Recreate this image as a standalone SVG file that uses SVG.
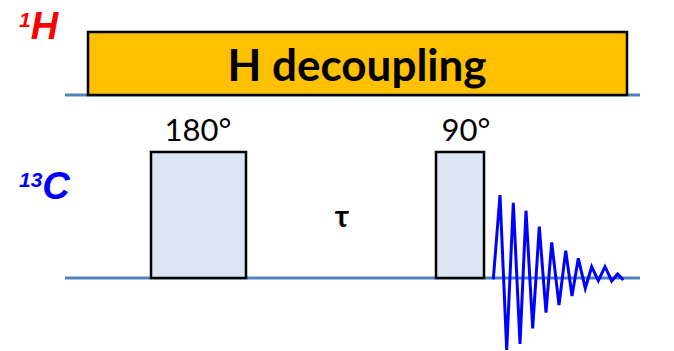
<svg xmlns="http://www.w3.org/2000/svg" width="674" height="351" viewBox="0 0 674 351">
<style>
.axis{stroke:#4f81bd;stroke-width:3;fill:none}
.pulse{fill:#dce6f2;stroke:#000;stroke-width:2.5}
.lbl{font-family:"Lato","Open Sans",sans-serif;font-size:31px;fill:#000}
.nuc{font-family:"Liberation Sans",Arial,sans-serif;font-weight:bold;font-style:italic}
</style>
<rect width="674" height="351" fill="#fff"/>
<g id="axes">
<line class="axis" x1="65" y1="95" x2="640" y2="95"/>
<line class="axis" x1="65" y1="278" x2="640" y2="278"/>
</g>
<g id="label-1H"><text class="nuc" x="19" y="39" fill="#ff0000" font-size="38"><tspan font-size="21" dy="-12">1</tspan><tspan dy="12">H</tspan></text></g>
<g id="label-13C"><text class="nuc" x="19" y="199" fill="#0000ff" font-size="38"><tspan font-size="21" dy="-12">13</tspan><tspan dy="12">C</tspan></text></g>
<g id="decoupling">
<rect x="88" y="32" width="539" height="63" fill="#ffc000" stroke="#000" stroke-width="2.5"/>
<text x="357" y="81" text-anchor="middle" font-family="Lato,'Open Sans',sans-serif" font-weight="bold" font-size="44" fill="#000">H decoupling</text>
</g>
<g id="pulse180">
<rect class="pulse" x="151" y="152" width="95" height="126"/>
<text class="lbl" x="198" y="141" text-anchor="middle">180°</text>
</g>
<g id="pulse90">
<rect class="pulse" x="436" y="152" width="48" height="126"/>
<text class="lbl" x="466" y="141" text-anchor="middle">90°</text>
</g>
<g id="tau"><text x="342" y="227" text-anchor="middle" font-family="Lato,'Open Sans',sans-serif" font-weight="bold" font-size="30" fill="#000">τ</text></g>
<g id="connectors">
<polyline id="fid" fill="none" stroke="#0000ff" stroke-width="3" stroke-linejoin="miter" points="493.3,279.3 500,195 506.7,350 513.3,202.7 520,344 526,210.7 532.7,328.3 539.3,226.7 546,312.7 551.7,242.3 559,305 565.7,250.7 572,296 578.3,258.3 585.3,288.3 591.7,266.7 598.3,280.7 605,266.7 611.7,281 617.7,274 623.3,280"/>
</g>
</svg>
